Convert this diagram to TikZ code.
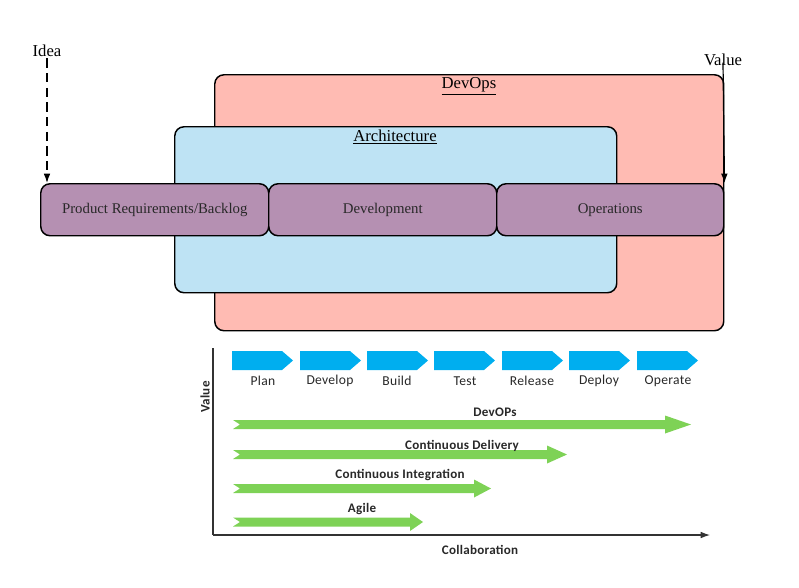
\documentclass[tikz,border=0pt]{standalone}
\usepackage{fontspec}
\setmainfont{Liberation Serif}
\newfontfamily\carl[LetterSpace=2]{Carlito}
\usetikzlibrary{arrows.meta}
\definecolor{pinkc}{RGB}{255,187,179}
\definecolor{bluec}{RGB}{190,227,244}
\definecolor{purpc}{RGB}{181,144,178}
\definecolor{cyanc}{RGB}{0,174,239}
\definecolor{greenc}{RGB}{126,210,86}
\definecolor{txtc}{RGB}{40,40,40}
\newcommand\chevshape[1]{\fill[cyanc] (#1,351) -- ({#1+50},351) -- ({#1+61},360.5) -- ({#1+50},370) -- (#1,370) -- cycle;}
\newcommand\greenarrow[4]{\fill[greenc] (#1,{#3-4.5}) -- ({#2-#4},{#3-4.5}) -- ({#2-#4},{#3-9}) -- (#2,#3) -- ({#2-#4},{#3+9}) -- ({#2-#4},{#3+4.5}) -- (#1,{#3+4.5}) -- ({#1+7},#3) -- cycle;}
\begin{document}
\begin{tikzpicture}[x=0.75pt,y=-0.75pt,
  bigbox/.style={draw=black, line width=1.1pt, rounded corners=7pt, anchor=north west, inner sep=0pt},
  stagebox/.style={draw=black, line width=1.1pt, rounded corners=7pt, fill=purpc, anchor=north west, inner sep=0pt,
     minimum height={52*0.75pt}, font=\fontsize{11.1}{13}\selectfont, text=txtc},
  toplabel/.style={font=\fontsize{12.5}{14}\selectfont, text=black, inner sep=1pt},
  steplabel/.style={font=\carl\fontsize{10.2}{12}\selectfont, text=txtc, inner sep=0pt},
  arrlabel/.style={font=\carl\bfseries\fontsize{9.8}{12}\selectfont, text=txtc, inner sep=0pt},
  conn/.style={line width=0.9pt, -{Latex[length=7pt,width=5pt]}}
]
\useasboundingbox (0,0) rectangle (799,587);
% top part
\node[bigbox, fill=pinkc, minimum width={509*0.75pt}, minimum height={256*0.75pt}] (devops) at (214,74) {};
\node[bigbox, fill=bluec, minimum width={442*0.75pt}, minimum height={166*0.75pt}] (arch) at (174,126) {};
\node[toplabel] (devopsl) at (469,86) {\underline{DevOps}};
\node[toplabel] (archl) at (395,137) {\underline{Architecture}};
\node[stagebox, minimum width={228*0.75pt}] (prb) at (40,183) {Product Requirements/Backlog};
\node[stagebox, minimum width={228*0.75pt}] (dev) at (268,183) {Development};
\node[stagebox, minimum width={227*0.75pt}] (ops) at (496,183) {Operations\strut};
\node[toplabel] (idea) at (47,51) {Idea};
\node[toplabel] (value) at (723,60) {Value};
\draw[conn, dashed, dash pattern=on 7pt off 4pt] (idea.south) -- (idea.south |- prb.north);
\draw[conn] ([yshift=-2pt]value.center) -- (ops.north east);
% bottom chart
\coordinate (origin) at (213,535);
\coordinate (ytop) at (213,348);
\coordinate (xend) at (710,535);
\draw[line width=0.8pt, black!80] (ytop) -- (origin);
\draw[line width=0.8pt, black!80, -{Latex[length=7pt,width=5pt]}] (origin) -- (xend);
\node[arrlabel, rotate=90] (valuey) at (205,397) {Value};
\chevshape{232}
\chevshape{300}
\chevshape{367}
\chevshape{434}
\chevshape{502}
\chevshape{569}
\chevshape{637}
\node[steplabel] (s1) at (263,381) {Plan};
\node[steplabel] (s2) at (330,381) {Develop};
\node[steplabel] (s3) at (397,381) {Build};
\node[steplabel] (s4) at (465,381) {Test};
\node[steplabel] (s5) at (532,381) {Release};
\node[steplabel] (s6) at (599,381) {Deploy};
\node[steplabel] (s7) at (668,381) {Operate};
\greenarrow{233}{691}{424.5}{26}
\greenarrow{233}{567}{454.5}{20}
\greenarrow{233}{491}{488.5}{17}
\greenarrow{233}{423}{522}{13}
\node[arrlabel] (l1) at (495,412) {DevOPs};
\node[arrlabel] (l2) at (462,446) {Continuous Delivery};
\node[arrlabel] (l3) at (400,475) {Continuous Integration};
\node[arrlabel] (l4) at (362,509) {Agile};
\node[arrlabel] (xl) at (480,550) {Collaboration};
\end{tikzpicture}
\end{document}
